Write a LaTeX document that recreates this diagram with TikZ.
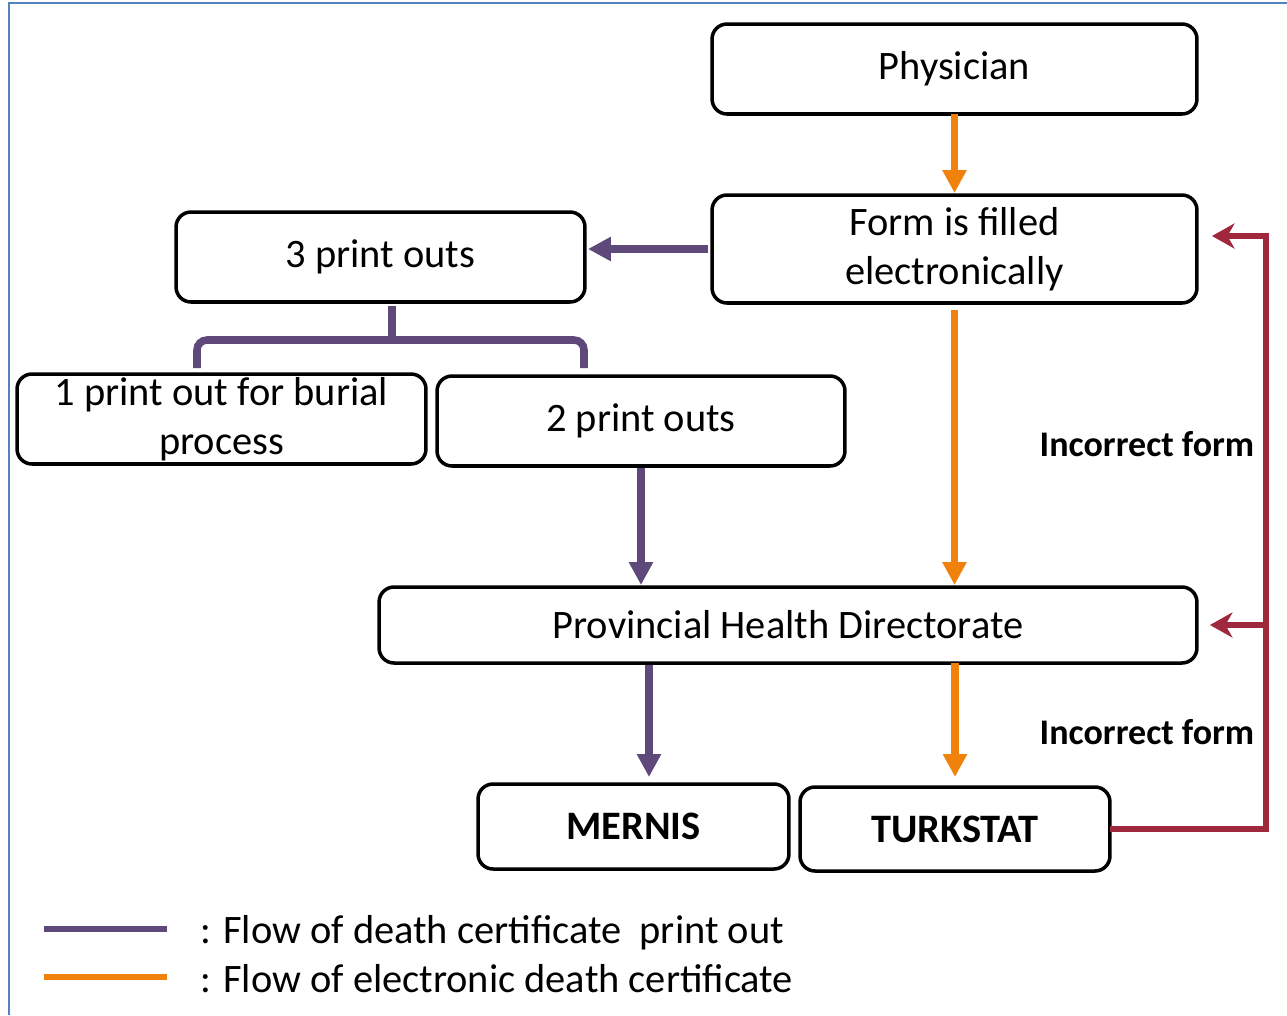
\documentclass[tikz,border=0pt]{standalone}
\usepackage{fontspec}
\setmainfont{Carlito}
\usepackage{tikz}
\usetikzlibrary{arrows.meta}
\usetikzlibrary{calc,positioning}

\definecolor{roxo}{RGB}{95,73,122}
\definecolor{laranja}{RGB}{240,130,12}
\definecolor{vinho}{RGB}{160,40,60}
\definecolor{moldura}{RGB}{84,130,190}

\begin{document}
\begin{tikzpicture}[x=0.02cm, y=-0.02cm, >={Triangle[length=0.46cm,width=0.46cm]},
    caixa/.style={draw, line width=2pt, rounded corners=0.3cm, inner sep=0pt, outer sep=0pt,
        minimum width=8.18cm, minimum height=1.8cm, align=center, font=\fontsize{23}{28}\selectfont},
    impresso/.style={draw=roxo, line width=4.3pt},
    eletronico/.style={draw=laranja, line width=4.3pt},
    erro/.style={draw=vinho, line width=3.3pt, >={Stealth[length=0.45cm,width=0.5cm,inset=0.14cm]}},
    rotulo/.style={font=\fontsize{20.5}{24}\selectfont\bfseries, inner sep=0pt},
    legenda/.style={font=\fontsize{23}{28}\selectfont, inner sep=0pt, anchor=base west}]

    \useasboundingbox (0,0) rectangle (1287,1015);

    % moldura
    \draw[moldura, line width=1.1pt] (9,1015) -- (9,3) -- (1287,3);

    % caixas
    \node[caixa, minimum width=9.7cm] (phys) at (954.5,69) {Physician};
    \node[caixa, minimum width=9.7cm, minimum height=2.16cm] (form) at (954.5,249) {Form is filled\\electronically};
    \node[caixa] (tres) at (380.5,257) {3 print outs};
    \node[caixa] (um) at (221.5,419) {1 print out for burial\\process};
    \node[caixa, minimum width=8.16cm] (dois) at (641,421) {2 print outs};
    \node[caixa, minimum width=16.36cm, minimum height=1.52cm] (dir) at (788,625) {Provincial Health Directorate};
    \node[caixa, minimum width=6.22cm, minimum height=1.7cm, font=\fontsize{23}{28}\selectfont\bfseries] (mernis) at (633.5,826.5) {MERNIS};
    \node[caixa, minimum width=6.2cm, minimum height=1.68cm, font=\fontsize{23}{28}\selectfont\bfseries] (turk) at (955,829) {TURKSTAT};

    % fluxo eletronico
    \draw[eletronico, ->, shorten >=0.04cm] (phys) -- (form);
    \draw[eletronico, ->, shorten <=0.14cm, shorten >=0.04cm] (form.south) -- (form.south |- dir.north);
    \draw[eletronico, ->, shorten >=0.2cm] (turk.north |- dir.south) -- (turk.north);

    % fluxo impresso
    \draw[impresso, ->, shorten <=0.08cm, shorten >=0.06cm] (form.west) -- (form.west -| tres.east);
    \draw[impresso, ->, shorten <=0.04cm, shorten >=0.04cm] (dois.south) -- (dois.south |- dir.north);
    \coordinate (mn) at ([xshift=0.31cm]mernis.north);
    \draw[impresso, ->, shorten <=0.04cm, shorten >=0.14cm] (mn |- dir.south) -- (mn);

    % chave
    \coordinate (chave) at (392,340);
    \coordinate (pe1) at (197,368);
    \coordinate (pe2) at (584,368);
    \draw[impresso, rounded corners=0.2cm] (pe1) |- (chave) -| (pe2);
    \draw[impresso, shorten <=0.08cm] (tres.south -| chave) -- (chave);

    % formulario incorreto
    \coordinate (retorno) at (1266,236);
    \draw[erro, ->, shorten >=0.3cm] (turk.east) -| (retorno) -- (retorno -| form.east);
    \draw[erro, ->, shorten >=0.26cm] (dir.east -| retorno) -- (dir.east);
    \node[rotulo] (inc1) at (1147,444) {Incorrect form};
    \node[rotulo] (inc2) at (1147,732) {Incorrect form};

    % legenda
    \draw[roxo, line width=3.8pt] (44,929) coordinate (l1a) -- (167,929) coordinate (l1b);
    \draw[laranja, line width=3.8pt] (44,977) coordinate (l2a) -- (167,977) coordinate (l2b);
    \node[legenda] (leg1) at (200,943) {: Flow of death certificate\ \ print out};
    \node[legenda] (leg2) at (200,992) {: Flow of electronic death certificate};

\end{tikzpicture}
\end{document}
